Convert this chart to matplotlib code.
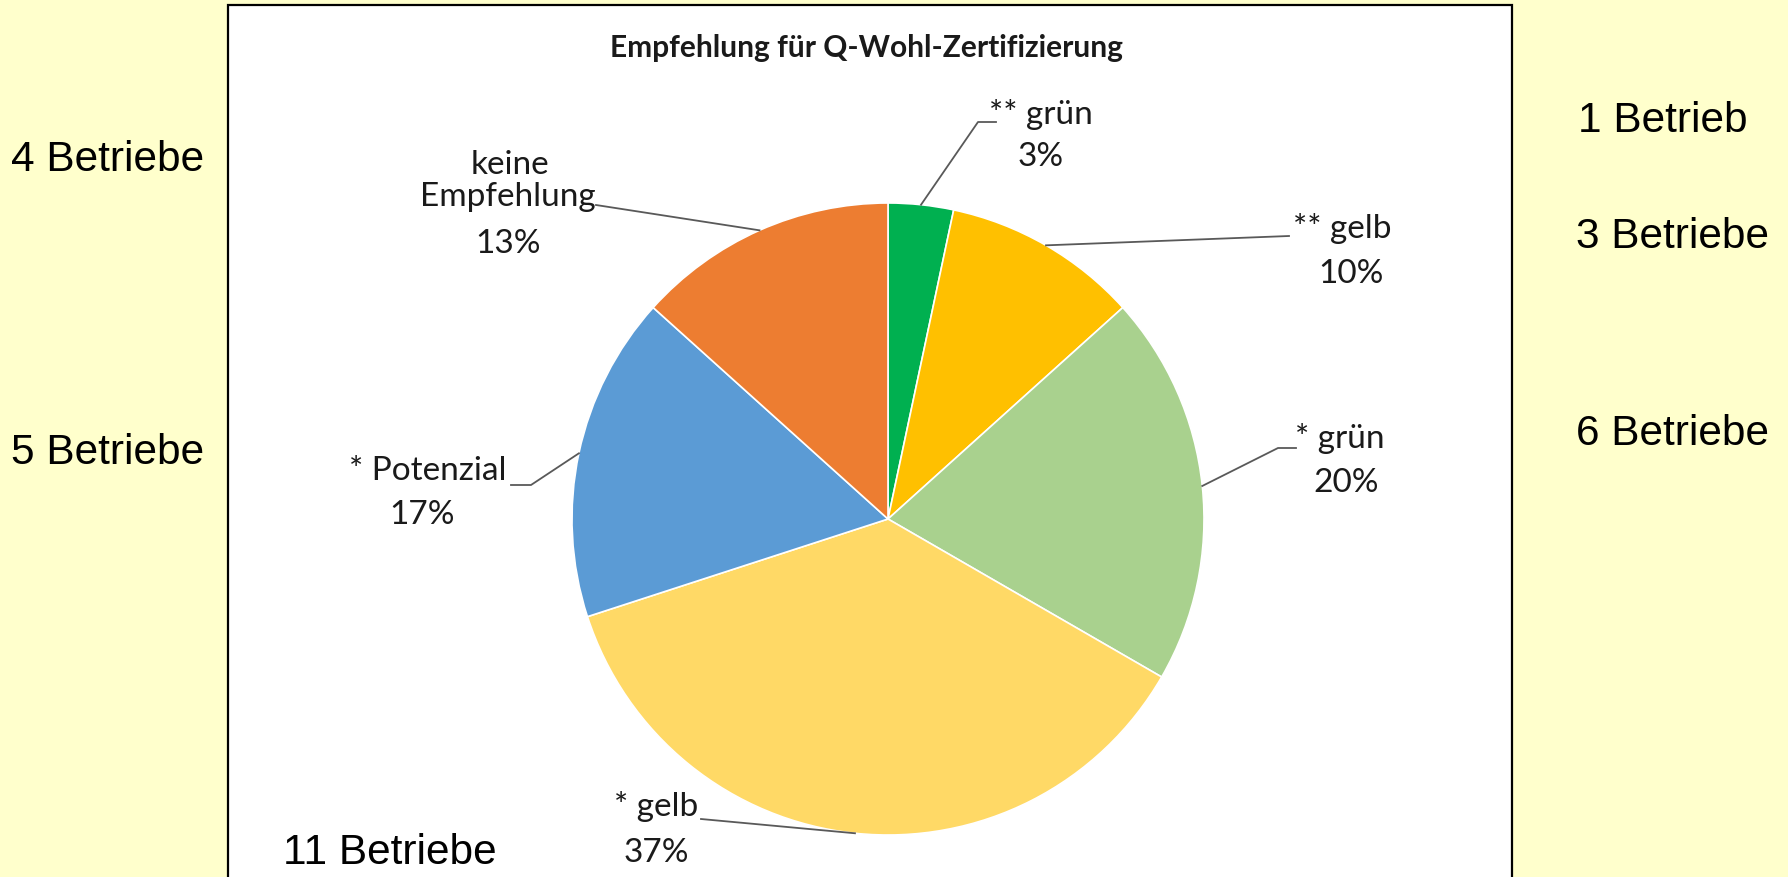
import numpy as np
import matplotlib
matplotlib.use("Agg")
import matplotlib.pyplot as plt
from matplotlib.patches import Rectangle

#data: number of farms per recommendation class (clockwise from top)
categories = ["** grün", "** gelb", "* grün", "* gelb", "* Potenzial", "keine\nEmpfehlung"]
counts = [1, 3, 6, 11, 5, 4]
colors = ["#00B050", "#FFC000", "#A9D18E", "#FFD966", "#5B9BD5", "#ED7D31"]
title = "Empfehlung für Q-Wohl-Zertifizierung"

#layout in pixel units (figure is 1788 x 877, y measured from the top)
W, H = 1788, 877
cx, cy, r = 888, 519, 316

#label anchors: (name x, name y, percent x, percent y)
label_pos = [(1041, 114, 1041, 157),
             (1342, 228, 1351, 274),
             (1340, 439, 1346, 483),
             (656, 806, 656, 853),
             (428, 471, 422, 515),
             (508, 181, 508, 244)]
#leader line points near the labels (the last point gets joined to the rim)
leader_pts = [[(996, 122), (978, 122)],
              [(1289, 236)],
              [(1296, 448), (1278, 448)],
              [(701, 819)],
              [(511, 485), (531, 485)],
              [(596, 205)]]
#farm count texts outside the chart: (x left, y centre)
count_pos = [(1578, 121), (1576, 237), (1576, 434), (283, 853), (11, 453), (11, 160)]


def fy(y):
    """pixel y from top -> data y"""
    return H - y


fig = plt.figure(figsize=(W / 100, H / 100), dpi=100, facecolor="#FFFFCC")
ax = fig.add_axes([0, 0, 1, 1])

#white chart area with black frame
ax.add_patch(Rectangle((228, -20), 1512 - 228, fy(5) + 20, facecolor="white",
                       edgecolor="black", linewidth=1.6, zorder=0))

ax.pie(counts, colors=colors, startangle=90, counterclock=False,
       center=(cx, fy(cy)), radius=r,
       wedgeprops=dict(edgecolor="white", linewidth=1.2))

ax.set_xlim(0, W)
ax.set_ylim(0, H)
ax.set_aspect("auto")
ax.axis("off")

total = sum(counts)
cum = np.cumsum(counts)
txt_col = "#1a1a1a"

for i, c in enumerate(counts):
    #mid angle of the wedge, clockwise from the top
    theta = np.deg2rad(360.0 * (cum[i] - c / 2.0) / total)
    rim = (cx + r * np.sin(theta), cy - r * np.cos(theta))
    pts = leader_pts[i] + [rim]
    ax.plot([p[0] for p in pts], [fy(p[1]) for p in pts], color="#595959",
            linewidth=1.3, zorder=3)

    nx_, ny_, px_, py_ = label_pos[i]
    name = categories[i]
    if "\n" in name:
        a, b = name.split("\n")
        ax.text(nx_ + 2, fy(ny_ - 16), a, ha="center", va="center",
                fontsize=24, family="Lato", color=txt_col)
        ax.text(nx_, fy(ny_ + 16), b, ha="center", va="center",
                fontsize=24, family="Lato", color=txt_col)
    else:
        ax.text(nx_, fy(ny_), name, ha="center", va="center",
                fontsize=24, family="Lato", color=txt_col)
    ax.text(px_, fy(py_), "%d%%" % round(100.0 * c / total), ha="center",
            va="center", fontsize=24, family="Lato", color=txt_col)

    #number of farms
    word = "Betrieb" if c == 1 else "Betriebe"
    ax.text(count_pos[i][0], fy(count_pos[i][1]), "%d %s" % (c, word),
            ha="left", va="center", fontsize=30.5, family="Liberation Sans",
            color="black")

ax.text(866, fy(48), title, ha="center", va="center", fontsize=21.5,
        family="Lato", fontweight="bold", color="#1a1a1a")

fig.savefig("out.png", dpi=100, facecolor=fig.get_facecolor())
